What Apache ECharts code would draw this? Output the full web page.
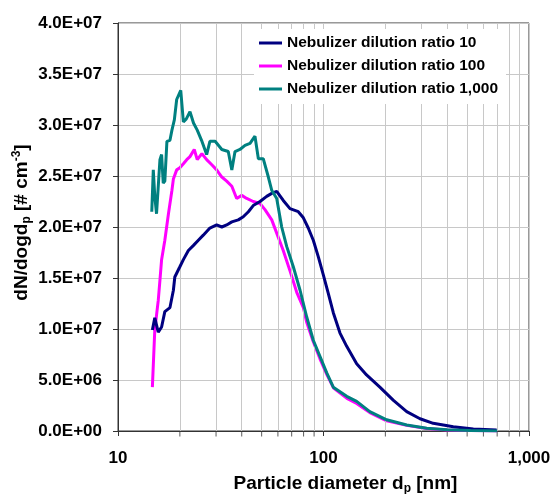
<!DOCTYPE html>
<html>
<head>
    <meta charset="utf-8">
    <title>Particle size distribution</title>
    <script src="https://cdn.jsdelivr.net/npm/echarts@6/dist/echarts.min.js"></script>
    <style>
        html, body {margin: 0; padding: 0; background: #fff;}
        #chart {width: 552px; height: 494px;}
    </style>
</head>
<body>
<div id="chart"></div>
<script type="text/javascript">

    // series names
    var seriesNames = ['Nebulizer dilution ratio 10', 'Nebulizer dilution ratio 100', 'Nebulizer dilution ratio 1,000'];

    // ratio 10 - particle diameter [nm] and dN/dlogdp
    var diam10 = [14.7, 15.1, 15.7, 16.3, 16.9, 17.9, 18.6, 18.9, 20.0, 20.8, 22.0, 23.3, 24.6, 26.0, 28.0, 30.2, 32.0, 33.8, 35.8, 38.5, 40.7, 43.1, 45.5, 49.1, 52.9, 56.0, 59.2, 63.7, 68.7, 75.4, 79.8, 84.3, 89.2, 94.3, 99.8, 105.5, 111.6, 120.3, 129.7, 145, 162, 188, 219, 254, 295, 342, 428, 536, 696];
    var dn10 = [9.9e6, 1.11e7, 9.7e6, 1.02e7, 1.17e7, 1.21e7, 1.38e7, 1.51e7, 1.61e7, 1.68e7, 1.77e7, 1.82e7, 1.87e7, 1.92e7, 1.99e7, 2.02e7, 2.00e7, 2.02e7, 2.05e7, 2.07e7, 2.10e7, 2.15e7, 2.21e7, 2.25e7, 2.30e7, 2.33e7, 2.35e7, 2.26e7, 2.18e7, 2.15e7, 2.09e7, 1.99e7, 1.87e7, 1.71e7, 1.53e7, 1.35e7, 1.16e7, 9.6e6, 8.3e6, 6.6e6, 5.5e6, 4.3e6, 3.0e6, 1.9e6, 1.2e6, 7.5e5, 4.2e5, 2.0e5, 1.0e5];

    // ratio 100
    var diam100 = [14.7, 15.1, 15.7, 16.0, 16.3, 16.9, 17.6, 18.3, 18.6, 19.3, 20.0, 20.8, 21.6, 22.4, 23.5, 24.3, 25.6, 27.0, 28.6, 30.2, 32.0, 33.8, 35.8, 37.8, 40.0, 42.3, 45.5, 49.1, 51.9, 56.0, 59.2, 63.7, 68.7, 74.1, 79.8, 83, 89, 96, 104, 112, 130, 145, 168, 203, 254, 318, 400, 520, 700];
    var dn100 = [4.3e6, 9.9e6, 1.28e7, 1.48e7, 1.68e7, 1.87e7, 2.13e7, 2.36e7, 2.47e7, 2.56e7, 2.58e7, 2.62e7, 2.66e7, 2.69e7, 2.76e7, 2.66e7, 2.72e7, 2.66e7, 2.61e7, 2.56e7, 2.49e7, 2.45e7, 2.40e7, 2.28e7, 2.31e7, 2.28e7, 2.25e7, 2.23e7, 2.17e7, 2.07e7, 1.94e7, 1.77e7, 1.57e7, 1.36e7, 1.21e7, 1.06e7, 8.8e6, 7.1e6, 5.5e6, 4.2e6, 3.2e6, 2.7e6, 1.8e6, 1.0e6, 5.5e5, 2.4e5, 1.0e5, 4e4, 0];

    // ratio 1,000
    var diam1000 = [14.6, 14.85, 15.1, 15.4, 16.0, 16.3, 16.6, 16.9, 17.3, 17.9, 18.3, 18.8, 19.3, 20.2, 20.8, 21.5, 22.4, 23.3, 24.3, 25.5, 27.0, 28.0, 29.7, 32.0, 34.4, 35.8, 37.1, 39.2, 41.5, 43.9, 46.4, 48.2, 50.9, 53.9, 56.0, 59.2, 62.6, 66.2, 71.3, 76.9, 82.8, 89.2, 96.2, 103.7, 111.6, 129.7, 145, 168, 203, 254, 318, 400, 520, 700];
    var dn1000 = [2.15e7, 2.56e7, 2.3e7, 2.13e7, 2.66e7, 2.71e7, 2.43e7, 2.45e7, 2.84e7, 2.85e7, 2.95e7, 3.05e7, 3.25e7, 3.34e7, 3.03e7, 3.06e7, 3.13e7, 3.02e7, 2.95e7, 2.85e7, 2.71e7, 2.84e7, 2.84e7, 2.76e7, 2.74e7, 2.56e7, 2.74e7, 2.76e7, 2.80e7, 2.82e7, 2.89e7, 2.67e7, 2.67e7, 2.49e7, 2.36e7, 2.28e7, 2.00e7, 1.81e7, 1.61e7, 1.38e7, 1.12e7, 8.9e6, 7.3e6, 5.7e6, 4.3e6, 3.4e6, 2.9e6, 1.9e6, 1.1e6, 5.9e5, 2.6e5, 1.2e5, 5e4, 0];

    // minor log grid lines / ticks on x axis
    var minorX = [20, 30, 40, 50, 60, 70, 80, 90, 200, 300, 400, 500, 600, 700, 800, 900];

    var colors = ['#000080', '#ff00ff', '#008080'];
    var fontFam = '"Liberation Sans", Arial, sans-serif';

    function pairs(xs, ys) {
        var out = [];
        for (var i = 0; i < xs.length; i++) {
            out.push([xs[i], ys[i]]);
        }
        return out;
    }

    //y label like 4.0E+07
    function sciFmt(v) {
        if (v === 0) return '0.0E+00';
        var e = Math.floor(Math.log10(v) + 1e-9);
        var m = v / Math.pow(10, e);
        return m.toFixed(1) + 'E+' + (e < 10 ? '0' + e : e);
    }

    var chart = echarts.init(document.getElementById('chart'));

    var nameRich = {
        b: {fontFamily: fontFam, fontSize: 19, fontWeight: 'bold', color: '#000', lineHeight: 22},
        sub: {fontFamily: fontFam, fontSize: 12, fontWeight: 'bold', color: '#000', verticalAlign: 'bottom', lineHeight: 22},
        sup: {fontFamily: fontFam, fontSize: 12, fontWeight: 'bold', color: '#000', verticalAlign: 'top', lineHeight: 22}
    };

    var option = {
        animation: false,
        color: colors,
        grid: {
            left: 118, right: 23, top: 23, bottom: 63,
            containLabel: false,
            outerBoundsMode: 'none',
            show: true, borderColor: '#333', borderWidth: 1
        },
        legend: {
            data: seriesNames,
            orient: 'vertical',
            left: 254, top: 29,
            z: 20,
            padding: [5, 8, 6, 5],
            backgroundColor: '#fff',
            icon: 'rect',
            itemWidth: 23, itemHeight: 3,
            itemGap: 5,
            textStyle: {fontFamily: fontFam, fontSize: 15.5, fontWeight: 'bold', color: '#000', lineHeight: 18}
        },
        xAxis: {
            type: 'log', logBase: 10, min: 10, max: 1000,
            name: '{b|Particle diameter d}{sub|p}{b| [nm]}',
            nameLocation: 'middle', nameGap: 42,
            nameMoveOverlap: false,
            nameTextStyle: {padding: [0, 0, 0, 44], rich: nameRich},
            axisLine: {lineStyle: {color: '#333', width: 1}},
            axisTick: {show: true, inside: false, length: 5, lineStyle: {color: '#333'}},
            axisLabel: {
                margin: 19, fontFamily: fontFam, fontSize: 17, fontWeight: 'bold', color: '#000',
                formatter: function (v) { return v >= 1000 ? '1,000' : String(v); }
            },
            splitLine: {show: true, lineStyle: {color: '#c8c8c8', width: 1}}
        },
        yAxis: {
            type: 'value', min: 0, max: 4e7, interval: 5e6,
            name: '{b|dN/dogd}{sub|p}{b| [# cm}{sup|-3}{b|]}',
            nameLocation: 'middle', nameGap: 85,
            nameMoveOverlap: false,
            nameTextStyle: {padding: [0, 0, 0, 9], rich: nameRich},
            axisLine: {show: true, lineStyle: {color: '#333', width: 1}},
            axisTick: {show: true, inside: false, length: 5, lineStyle: {color: '#333'}},
            axisLabel: {
                margin: 16, fontFamily: fontFam, fontSize: 17, fontWeight: 'bold', color: '#000',
                formatter: sciFmt
            },
            splitLine: {show: true, lineStyle: {color: '#c8c8c8', width: 1}}
        },
        series: [
            {
                // minor ticks on the x axis + minor grid lines
                name: 'minor',
                type: 'scatter',
                data: minorX.map(function (x) { return [x, 0]; }),
                symbol: 'rect',
                symbolSize: [1, 5],
                symbolOffset: [0, 3],
                itemStyle: {color: '#333'},
                clip: false,
                silent: true,
                z: 1,
                markLine: {
                    silent: true,
                    symbol: 'none',
                    label: {show: false},
                    lineStyle: {color: '#c8c8c8', width: 1, type: 'solid'},
                    data: minorX.map(function (x) { return {xAxis: x}; })
                }
            },
            {
                name: seriesNames[0], type: 'line', data: pairs(diam10, dn10),
                symbol: 'none', lineStyle: {width: 3, color: colors[0]}, z: 5
            },
            {
                name: seriesNames[1], type: 'line', data: pairs(diam100, dn100),
                symbol: 'none', lineStyle: {width: 3, color: colors[1]}, z: 4
            },
            {
                name: seriesNames[2], type: 'line', data: pairs(diam1000, dn1000),
                symbol: 'none', lineStyle: {width: 3, color: colors[2]}, z: 6
            }
        ]
    };

    chart.setOption(option);

</script>
</body>
</html>
